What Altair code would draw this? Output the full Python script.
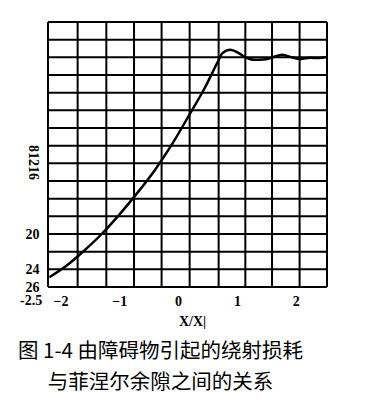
import altair as alt
import pandas as pd

# Curve (x in X/X1 units, y = loss in dB, increasing downward)
curve_x = [-2.19, -1.90, -1.60, -1.30, -1.00, -0.70, -0.40, -0.10, 0.20, 0.45,
           0.69, 0.75, 0.89, 1.03, 1.14, 1.30, 1.45, 1.60, 1.77, 1.93, 2.08,
           2.25, 2.39, 2.53]
curve_y = [24.9, 23.6, 21.9, 20.0, 17.8, 15.4, 12.8, 9.8, 6.4, 3.5,
           0.3, -0.45, -0.86, -0.48, -0.03, 0.28, 0.25, 0.02, -0.30, 0.00, 0.18,
           0.05, 0.08, -0.05]

# Grid lines of the chart paper
grid_x = [-2.213, -1.709, -1.221, -0.750, -0.281, 0.196, 0.689, 1.143, 1.597, 2.066, 2.532]
grid_y = [-4, -2, 0, 2, 4, 6, 8, 10, 12, 14, 16, 18, 20, 22, 24, 26]

# Tick labels
x_ticks = [-2, -1, 0, 1, 2]
x_extra_label = ["-2.5"]
x_extra_value = [-2.5]
y_ticks = [20, 24, 26]
y_title = "81216"
x_title = "X/X|"
caption = ["图 1-4 由障碍物引起的绕射损耗", "与菲涅尔余隙之间的关系"]

LABEL_FONT = "Liberation Serif"

curve_df = pd.DataFrame({"x": curve_x, "y": curve_y})
gx_df = pd.DataFrame({"gx": grid_x})
gy_df = pd.DataFrame({"gy": grid_y})
extra_df = pd.DataFrame({"x": x_extra_value, "y": [grid_y[-1]], "t": x_extra_label})

xs = alt.Scale(domain=[grid_x[0], grid_x[-1]], nice=False, zero=False)
ys = alt.Scale(domain=[grid_y[0], grid_y[-1]], reverse=True, nice=False, zero=False)

x_axis = alt.Axis(values=x_ticks, title=x_title, grid=False, ticks=False, tickSize=0,
                  domain=False, labelFont=LABEL_FONT, labelFontWeight="bold",
                  labelFontSize=14, labelColor="black", labelPadding=7,
                  labelBaseline="top",
                  titleFont=LABEL_FONT, titleFontWeight="bold", titleFontSize=14,
                  titleColor="black", titleX=144, titleY=34, titleBaseline="middle",
                  titleAnchor="start", titleAlign="center")
y_axis = alt.Axis(values=y_ticks, title=y_title, grid=False, ticks=False, tickSize=0,
                  domain=False, labelFont=LABEL_FONT, labelFontWeight="bold",
                  labelFontSize=14, labelColor="black", labelPadding=9,
                  titleFont=LABEL_FONT, titleFontWeight="bold", titleFontSize=14,
                  titleColor="black", titleAngle=90, titleX=-16, titleY=140,
                  titleAlign="center", titleBaseline="middle", titleAnchor="start")

vgrid = alt.Chart(gx_df).mark_rule(color="black", strokeWidth=2).encode(
    x=alt.X("gx:Q", scale=xs, axis=x_axis)
)
hgrid = alt.Chart(gy_df).mark_rule(color="black", strokeWidth=2).encode(
    y=alt.Y("gy:Q", scale=ys, axis=y_axis)
)
curve = alt.Chart(curve_df).mark_line(color="black", strokeWidth=2.5,
                                      interpolate="monotone").encode(
    x=alt.X("x:Q", scale=xs, axis=x_axis),
    y=alt.Y("y:Q", scale=ys, axis=y_axis),
)
extra = alt.Chart(extra_df).mark_text(font=LABEL_FONT, fontWeight="bold", fontSize=14,
                                      color="black", baseline="top", dy=7,
                                      align="center").encode(
    x=alt.X("x:Q", scale=xs, axis=x_axis),
    y=alt.Y("y:Q", scale=ys, axis=y_axis),
    text="t:N",
)

chart = alt.layer(vgrid, hgrid, curve, extra).properties(
    width=279,
    height=265,
    autosize=alt.AutoSizeParams(type="none"),
    padding={"left": 40, "top": 14, "right": 30, "bottom": 112},
    title=alt.TitleParams(text=caption, orient="bottom", anchor="middle", frame="group",
                          font="Noto Sans CJK SC", fontSize=20.5, fontWeight="normal",
                          color="black", lineHeight=31, dx=-27, offset=14),
).configure_view(stroke=None)

chart.save("out.html", embed_options={"renderer": "svg", "actions": False})
